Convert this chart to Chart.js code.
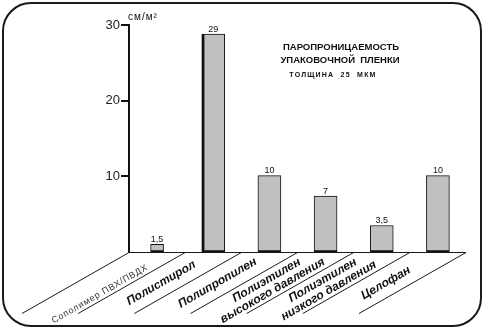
<!DOCTYPE html>
<html>
<head>
<meta charset="utf-8">
<script src="https://cdn.jsdelivr.net/npm/chart.js@4/dist/chart.umd.min.js"></script>
<style>
  html, body { margin: 0; padding: 0; background: #fff; }
  canvas { display: block; }
</style>
</head>
<body>
<canvas id="chart" width="485" height="330"></canvas>
<script>
// data
var categories = [
  ['Сополимер ПВХ/ПВДХ'],
  ['Полистирол'],
  ['Полипропилен'],
  ['Полиэтилен', 'высокого давления'],
  ['Полиэтилен', 'низкого давления'],
  ['Целофан']
];
var values = [1.0, 28.8, 10.1, 7.4, 3.5, 10.1];
var valueLabels = ['1,5', '29', '10', '7', '3,5', '10'];
var yTicks = [10, 20, 30];
var unitLabel = 'см/м²';
var titleLines = ['ПАРОПРОНИЦАЕМОСТЬ', 'УПАКОВОЧНОЙ  ПЛЕНКИ'];
var subTitle = 'ТОЛЩИНА  25  МКМ';

// first bar is drawn narrower than the others
var narrowData = values.map(function(v, i) { return i === 0 ? v : null; });
var wideData = values.map(function(v, i) { return i === 0 ? null : v; });

function barBorder(ctx) {
  var left = ctx.dataIndex === 1 ? 3 : 1;
  return { top: 1, left: left, right: 1, bottom: 2 };
}

var decor = {
  id: 'decor',
  afterDraw: function(chart) {
    var ctx = chart.ctx;
    var area = chart.chartArea;
    var xs = chart.scales.x;
    ctx.save();

    // rounded frame
    ctx.strokeStyle = '#1a1a1a';
    ctx.lineWidth = 2;
    ctx.beginPath();
    ctx.roundRect(3, 3, 478, 323, 28);
    ctx.stroke();

    // baseline and slanted separators
    ctx.lineWidth = 1;
    ctx.beginPath();
    ctx.moveTo(area.left, area.bottom + 0.5);
    ctx.lineTo(area.right, area.bottom + 0.5);
    var step = (area.right - area.left) / categories.length;
    for (var k = 0; k <= categories.length; k++) {
      var bx = area.left + k * step;
      ctx.moveTo(bx, area.bottom + 0.5);
      ctx.lineTo(bx - 107, area.bottom + 61.5);
    }
    ctx.stroke();

    // values above bars
    ctx.fillStyle = '#111';
    ctx.font = '9px "Liberation Sans", Arial, sans-serif';
    ctx.textAlign = 'center';
    ctx.textBaseline = 'alphabetic';
    for (var i = 0; i < values.length; i++) {
      var meta = chart.getDatasetMeta(i === 0 ? 0 : 1);
      var bar = meta.data[i];
      ctx.fillText(valueLabels[i], bar.x, bar.y - 2.5);
    }

    // slanted category labels
    for (var j = 0; j < categories.length; j++) {
      var lines = categories[j];
      var cx = xs.getPixelForValue(j) - (lines.length > 1 ? 56 : 52);
      var cy = area.bottom + (lines.length > 1 ? 33.5 : 31);
      ctx.save();
      ctx.translate(cx, cy);
      ctx.rotate(-Math.PI / 6);
      ctx.textBaseline = 'middle';
      if (j === 0) {
        ctx.translate(-10, 7);
        ctx.font = '9px "Liberation Sans", Arial, sans-serif';
        ctx.fillStyle = '#333';
        ctx.letterSpacing = '0.8px';
      } else {
        ctx.font = 'italic bold 12px "Liberation Sans Narrow", "Liberation Sans", Arial, sans-serif';
        ctx.fillStyle = '#111';
        ctx.letterSpacing = '0px';
      }
      var lh = 12;
      for (var n = 0; n < lines.length; n++) {
        var off = (n - (lines.length - 1) / 2) * lh;
        ctx.fillText(lines[n], 0, off);
      }
      ctx.restore();
    }

    // unit and title
    ctx.fillStyle = '#111';
    ctx.textAlign = 'left';
    ctx.textBaseline = 'middle';
    ctx.font = '10px "Liberation Sans", Arial, sans-serif';
    ctx.letterSpacing = '1px';
    ctx.fillText(unitLabel, area.left - 1, 17);

    ctx.textAlign = 'center';
    ctx.letterSpacing = '0px';
    ctx.font = 'bold 9.5px "Liberation Sans", Arial, sans-serif';
    ctx.fillText(titleLines[0], 341, 47);
    ctx.fillText(titleLines[1], 340, 60);
    ctx.font = 'bold 7px "Liberation Sans", Arial, sans-serif';
    ctx.letterSpacing = '1.2px';
    ctx.fillText(subTitle, 333, 75);

    ctx.restore();
  }
};

new Chart(document.getElementById('chart').getContext('2d'), {
  type: 'bar',
  data: {
    labels: categories,
    datasets: [
      {
        data: narrowData,
        backgroundColor: '#c0c0c0',
        borderColor: '#111',
        borderWidth: barBorder,
        borderSkipped: false,
        barThickness: 13,
        grouped: false
      },
      {
        data: wideData,
        backgroundColor: '#c0c0c0',
        borderColor: '#111',
        borderWidth: barBorder,
        borderSkipped: false,
        barThickness: 23,
        grouped: false
      }
    ]
  },
  options: {
    responsive: false,
    animation: false,
    layout: {
      padding: { top: 25, right: 19, bottom: 78, left: 0 }
    },
    plugins: {
      legend: { display: false },
      tooltip: { enabled: false }
    },
    scales: {
      x: {
        display: false
      },
      y: {
        min: 0,
        max: 30,
        afterFit: function(scale) { scale.width = 129; },
        afterBuildTicks: function(scale) {
          scale.ticks = yTicks.map(function(v) { return { value: v }; });
        },
        border: { display: true, color: '#111', width: 2 },
        grid: {
          drawOnChartArea: false,
          tickLength: 8,
          lineWidth: 2,
          color: '#111'
        },
        ticks: {
          padding: 1,
          color: '#222',
          font: { family: '"Liberation Sans", Arial, sans-serif', size: 13 }
        }
      }
    }
  },
  plugins: [decor]
});
</script>
</body>
</html>
